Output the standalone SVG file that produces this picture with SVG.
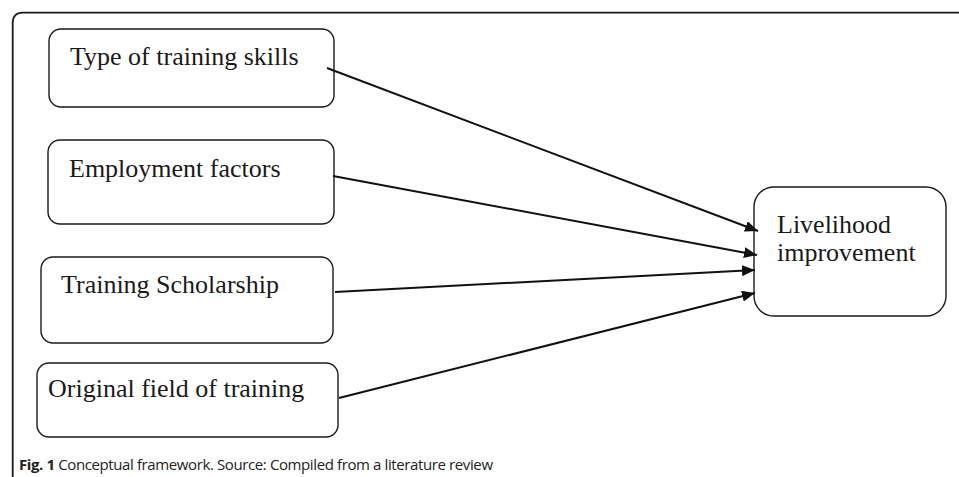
<svg xmlns="http://www.w3.org/2000/svg" width="959" height="477" viewBox="0 0 959 477">
<style>
.box{fill:#fff;stroke:#1a1a1a;stroke-width:1.4}
.lbl{font-family:"Liberation Serif","Times New Roman",serif;font-size:26px;fill:#1a1a1a}
.cap{font-family:"Open Sans","Noto Sans",sans-serif;font-size:15px;fill:#222}
.edge{stroke:#111;stroke-width:2;fill:none;marker-end:url(#ah)}
</style>
<defs>
<marker id="ah" viewBox="0 0 13 11" refX="13" refY="5.5" markerWidth="13" markerHeight="11" markerUnits="userSpaceOnUse" orient="auto">
<path d="M0,0 L13,5.5 L0,11 Z" fill="#111"/>
</marker>
</defs>
<rect width="959" height="477" fill="#fff"/>
<path d="M12.7,477 V23 Q12.7,12.7 23,12.7 H959" fill="none" stroke="#1a1a1a" stroke-width="1.8"/>
<g id="n1"><rect class="box" x="49" y="29" width="285" height="78" rx="12"/><text class="lbl" x="70" y="65">Type of training skills</text></g>
<g id="n2"><rect class="box" x="48" y="140" width="286" height="84" rx="12"/><text class="lbl" x="69" y="177">Employment factors</text></g>
<g id="n3"><rect class="box" x="41" y="257" width="292" height="86" rx="12"/><text class="lbl" x="61" y="293">Training Scholarship</text></g>
<g id="n4"><rect class="box" x="37" y="363" width="301" height="74" rx="12"/><text class="lbl" x="48" y="397">Original field of training</text></g>
<g id="n5"><rect class="box" x="754" y="187" width="192" height="129" rx="20"/><text class="lbl" x="777" y="233">Livelihood</text><text class="lbl" x="777" y="261">improvement</text></g>
<g id="edges">
<line class="edge" x1="327" y1="68" x2="758" y2="231"/>
<line class="edge" x1="333" y1="176" x2="757" y2="255"/>
<line class="edge" x1="335" y1="292" x2="755" y2="270"/>
<line class="edge" x1="339" y1="398" x2="755" y2="293"/>
</g>
<text class="cap" x="19" y="470" textLength="474" lengthAdjust="spacing"><tspan font-weight="bold">Fig. 1</tspan> Conceptual framework. Source: Compiled from a literature review</text>
</svg>
